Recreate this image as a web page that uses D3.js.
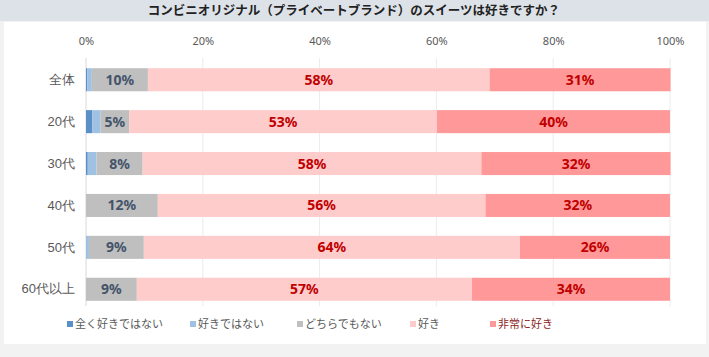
<!DOCTYPE html>
<html><head><meta charset="utf-8">
<script src="https://cdn.jsdelivr.net/npm/d3@7"></script>
<style>
body{margin:0;background:#fff;}
svg{display:block;font-family:"Noto Sans CJK JP","Noto Sans",sans-serif;}
</style></head>
<body><svg id="c" width="709" height="357"></svg>
<script>
const title = "コンビニオリジナル（プライベートブランド）のスイーツは好きですか？";
const categories = ["全体","20代","30代","40代","50代","60代以上"];
const seriesNames = ["全く好きではない","好きではない","どちらでもない","好き","非常に好き"];
const s1 = [0.2, 1.1, 0.3, 0.0, 0.0, 0.0];
const s2 = [0.8, 1.4, 1.5, 0.0, 0.5, 0.0];
const s3 = [9.6, 4.9, 7.9, 12.3, 9.4, 8.7];
const s4 = [58.5, 52.7, 58.0, 56.1, 64.4, 57.4];
const s5 = [31.0, 39.9, 32.4, 31.6, 25.7, 33.9];
const labels3 = ["10%","5%","8%","12%","9%","9%"];
const labels4 = ["58%","53%","58%","56%","64%","57%"];
const labels5 = ["31%","40%","32%","32%","26%","34%"];
const tickValues = [0,20,40,60,80,100];
const colors = ["#5b8fc7","#9fc2e4","#bfbfbf","#ffcccc","#ff9999"];

const svg = d3.select("#c");
// frame
svg.append("rect").attr("x",0).attr("y",0).attr("width",709).attr("height",357).attr("fill","#f2f2f2");
svg.append("rect").attr("x",4).attr("y",22).attr("width",702).attr("height",322).attr("fill","#fff");
svg.append("rect").attr("x",0).attr("y",0).attr("width",709).attr("height",21).attr("fill","#dde2e8");
svg.append("text").attr("x",354).attr("y",15).attr("text-anchor","middle")
  .attr("font-size",12.5).attr("font-weight","bold").attr("fill","#222").text(title);

const x = d3.scaleLinear().domain([0,100]).range([86,670]);
const y = d3.scaleBand().domain(categories).range([59,310]).paddingInner(0.45).paddingOuter(0.22);

// gridlines
svg.append("g").selectAll("line").data(tickValues).join("line")
  .attr("x1",d=>x(d)).attr("x2",d=>x(d)).attr("y1",58).attr("y2",306)
  .attr("stroke",d=>d===0?"#d9d9d9":"#ececec").attr("stroke-width",1);

const axis = d3.axisTop(x).tickValues(tickValues).tickFormat(d=>d+"%").tickSize(0);
const ag = svg.append("g").attr("transform","translate(0,48)").call(axis);
ag.select(".domain").remove();
ag.selectAll("text").attr("font-size",11).attr("fill","#595959").attr("font-family","\"Noto Sans\",sans-serif");

const yAxis = d3.axisLeft(y).tickSize(0).tickPadding(0);
const yg = svg.append("g").attr("transform","translate(75,0)").call(yAxis);
yg.select(".domain").remove();
yg.selectAll("text").attr("font-size",13).attr("fill","#595959");

const rows = categories.map((c,i)=>({cat:c, v:[s1[i],s2[i],s3[i],s4[i],s5[i]]}));
const keys = [0,1,2,3,4];
const stack = d3.stack().keys(keys).value((d,k)=>d.v[k]);
const stacked = stack(rows);

svg.append("g").selectAll("g").data(stacked).join("g").attr("fill",(d,i)=>colors[i])
  .selectAll("rect").data(d=>d).join("rect")
  .attr("x",d=>x(d[0])).attr("width",d=>Math.max(0,x(d[1])-x(d[0])))
  .attr("y",d=>y(d.data.cat)).attr("height",y.bandwidth());

const labelSets = [null,null,labels3,labels4,labels5];
const labelColors = [null,null,"#44546a","#c00000","#c00000"];
[2,3,4].forEach(k=>{
  svg.append("g").selectAll("text").data(stacked[k]).join("text")
    .attr("x",d=>(x(d[0])+x(d[1]))/2).attr("y",d=>y(d.data.cat)+y.bandwidth()/2+5)
    .attr("text-anchor","middle").attr("font-size",14).attr("font-weight","bold")
    .attr("font-family","\"Noto Sans\",sans-serif")
    .attr("fill",labelColors[k]).text((d,i)=>labelSets[k][i]);
});

// legend
const legX = [67,190,297,410,490];
const lg = svg.append("g").selectAll("g").data(seriesNames).join("g")
  .attr("transform",(d,i)=>`translate(${legX[i]},325)`);
lg.append("rect").attr("x",0).attr("y",-4).attr("width",6).attr("height",6).attr("fill",(d,i)=>colors[i]);
lg.append("text").attr("x",8).attr("y",3).attr("font-size",11)
  .attr("fill",(d,i)=>i===4?"#8b1a1a":"#595959").text(d=>d);
</script></body></html>
